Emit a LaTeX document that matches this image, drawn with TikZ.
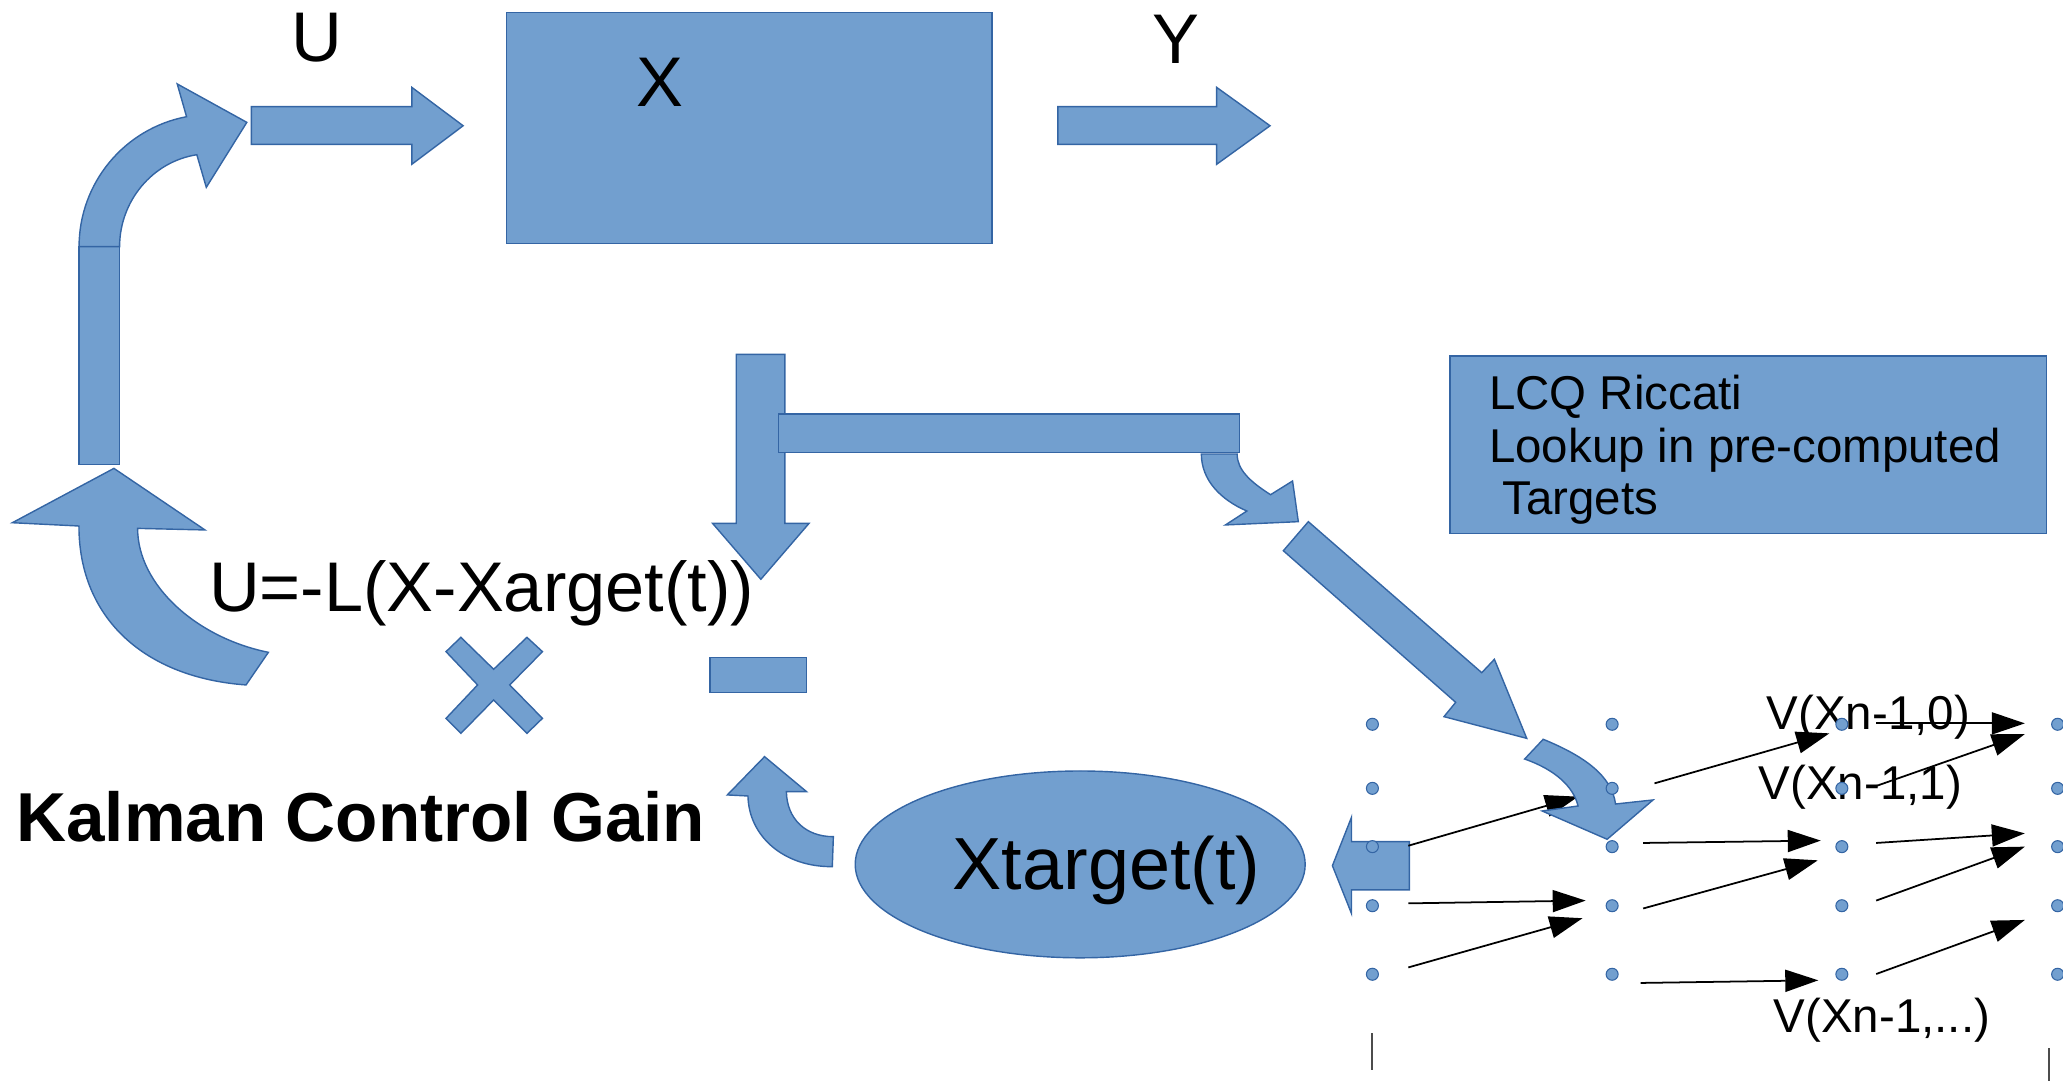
\documentclass[tikz,border=0pt]{standalone}
\usepackage{fontspec}
\setmainfont{Liberation Sans}
\usetikzlibrary{arrows.meta}
\definecolor{shapefill}{HTML}{729FCF}
\definecolor{shapeline}{HTML}{3465A4}
\tikzset{
  block/.style={fill=shapefill, draw=shapeline, line width=0.4pt, line join=miter},
  biglabel/.style={inner sep=0pt, anchor=base, font=\fontsize{20pt}{24pt}\selectfont},
  vlabel/.style={inner sep=0pt, anchor=base, font=\fontsize{13.5pt}{15pt}\selectfont},
  flowarrow/.style={draw=black, line width=0.5pt, -{Triangle[length=3.3mm,width=2.2mm]}},
  griddot/.style={circle, fill=shapefill, draw=shapeline, line width=0.3pt, minimum size=0.12cm, inner sep=0pt},
  tick/.style={draw=black!70, line width=0.5pt},
}
\begin{document}
\begin{tikzpicture}[x=0.013157cm, y=-0.013157cm]
\useasboundingbox (0,0) rectangle (1568,822);

% plant block and its input / output arrows
\draw[block] (385,9.6) rectangle (754,185);
\draw[block] (191,81.1) -- (313,81.1) -- (313,66.4) -- (352,95.6) -- (313,124.9) -- (313,109.7) -- (191,109.7) -- cycle;
\draw[block] (804,81.1) -- (924.7,81.1) -- (924.7,66.4) -- (965.3,95.6) -- (924.7,124.9) -- (924.7,109.7) -- (804,109.7) -- cycle;

% feedback column with its bend into the input arrow
\draw[block] (60.1,187.5) rectangle (90.9,352.9);
\draw[block] (60.1,187.5) .. controls (60.1,139.2) and (94.4,97.7) .. (141.8,88.7)
  -- (134.7,63.8) -- (187.6,93) -- (156.8,142.4) -- (149.6,117.6)
  .. controls (115.6,122.9) and (90.9,153.1) .. (90.9,187.5) -- cycle;

% curved arrow rising from the gain
\draw[block] (9.4,397.3) -- (86.6,356) -- (155.8,402.8) -- (104.6,401.6)
  .. controls (104.6,445) and (150,485) .. (204,495.8) -- (187,520.6)
  .. controls (110,515) and (60,470) .. (60,399.8) -- cycle;

% state tap: down arrow and horizontal branch
\draw[block] (559.6,269.3) -- (596.6,269.3) -- (596.6,397.8) -- (614.9,397.8) -- (578.3,440.3) -- (541.6,397.8) -- (559.6,397.8) -- cycle;
\draw[block] (591.8,314.7) rectangle (941.9,343.8);
\draw[block] (913.1,345.1) .. controls (913.1,365) and (928,380) .. (947.7,388.4)
  -- (931.4,399) -- (986.8,396.5) -- (982.4,365.6) -- (965.7,376)
  .. controls (950,366) and (940.3,357) .. (940.3,345.1) -- cycle;

% diagonal arrow towards the lookup grid
\draw[block] (975.4,418.6) -- (994.4,396.5) -- (1126.2,511.3) -- (1135.8,501.1) -- (1160.4,561.2) -- (1097.5,544.7) -- (1106.4,533.8) -- cycle;

% operators: multiply and minus
\draw[block] (339,495.3) -- (350.3,484.4) -- (375.2,508.7) -- (400.5,484.4) -- (412.3,495.3) -- (387.4,520.6)
  -- (412.3,546) -- (400.5,557.4) -- (375.2,532) -- (350.3,557.4) -- (339,546) -- (363,520.6) -- cycle;
\draw[block] (539.7,499.6) rectangle (613,526.2);

% target trajectory
\draw[block] (821,657) ellipse [x radius=171, y radius=71];
\draw[block] (581.1,575.1) -- (613,601.7) -- (597.7,601.7)
  .. controls (598,622) and (612,636) .. (633.4,635.9) -- (632.6,658.7)
  .. controls (595,659) and (569,635) .. (568.5,605) -- (552.8,604.2) -- cycle;
\draw[block] (1071.2,639.7) -- (1027.2,639.7) -- (1027.2,621.2) -- (1012.7,658) -- (1027.2,694.3) -- (1027.2,676.4) -- (1071.2,676.4) -- cycle;

% lookup description box
\draw[block] (1102.1,270.6) rectangle (1555.5,405.4);

% labels
\node[biglabel] (lu) at (240.9,46.8) {U};
\node[biglabel] (lx) at (501.7,81.1) {X};
\node[biglabel] (ly) at (893.4,48.1) {Y};
\node[biglabel] (law) at (366,464.6) {U=-L(X-Xarget(t))};
\node[biglabel, font=\fontsize{19.7pt}{24pt}\selectfont\bfseries] (gain) at (274.2,639.7) {Kalman Control Gain};
\node[biglabel, font=\fontsize{21pt}{25pt}\selectfont] (xt) at (841,676) {Xtarget(t)};
\node[vlabel, anchor=base west] (lcqa) at (1131.3,311.6) {LCQ Riccati};
\node[vlabel, anchor=base west] (lcqb) at (1131.3,351.4) {Lookup in pre-computed};
\node[vlabel, anchor=base west] (lcqc) at (1131.3,391.4) {\ Targets};
\node[vlabel] (v0) at (1420,554.8) {V(Xn-1,0)};
\node[vlabel] (v1) at (1414,608) {V(Xn-1,1)};
\node[vlabel] (vn) at (1430.3,785) {V(Xn-1,...)};

% transitions between grid stages
\coordinate (s1) at (1070.4,642.8);  \coordinate (e1) at (1199.4,605.5);
\coordinate (s2) at (1070.4,686.6);  \coordinate (e2) at (1205.2,684.5);
\coordinate (s3) at (1070.4,735.3);  \coordinate (e3) at (1202.8,697.9);
\coordinate (s4) at (1257.5,595.4);  \coordinate (e4) at (1390.4,557.4);
\coordinate (s5) at (1248.9,640.7);  \coordinate (e5) at (1383.9,638.9);
\coordinate (s6) at (1248.9,690.5);  \coordinate (e6) at (1381.6,653.9);
\coordinate (s7) at (1246.9,747.1);  \coordinate (e7) at (1382,745.1);
\coordinate (s8) at (1426,549.8);    \coordinate (e8) at (1539,549.8);
\coordinate (s9) at (1426,597.4);    \coordinate (e9) at (1539,557.9);
\coordinate (s10) at (1426,640.7);   \coordinate (e10) at (1539,633.4);
\coordinate (s11) at (1426,684.5);   \coordinate (e11) at (1539,643.5);
\coordinate (s12) at (1426,740.3);   \coordinate (e12) at (1539,699.2);
\foreach \i in {1,...,12} { \draw[flowarrow] (s\i) -- (e\i); }

% bend entering the grid
\draw[block] (1158.8,576.9) -- (1172.9,561.9) .. controls (1205,575) and (1225,590) .. (1227.9,611.1)
  -- (1256.4,608) -- (1221.5,637.9) -- (1172.1,616.4) -- (1199.4,612.6)
  .. controls (1196,598) and (1182,585) .. (1158.8,576.9) -- cycle;

% grid of stored values
\foreach \c/\gx in {1/1043.1, 2/1225.3, 3/1399.9, 4/1563.9} {
  \foreach \r/\gy in {1/550.5, 2/599.2, 3/643.5, 4/688.4, 5/740.5} {
    \node[griddot] (d\c\r) at (\gx,\gy) {};
  }
}

% stage markers
\coordinate (ta) at (1042.6,785.4); \coordinate (tb) at (1042.6,813.2);
\coordinate (tc) at (1557.4,796.8); \coordinate (td) at (1557.4,822);
\draw[tick] (ta) -- (tb);
\draw[tick] (tc) -- (td);
\end{tikzpicture}
\end{document}
